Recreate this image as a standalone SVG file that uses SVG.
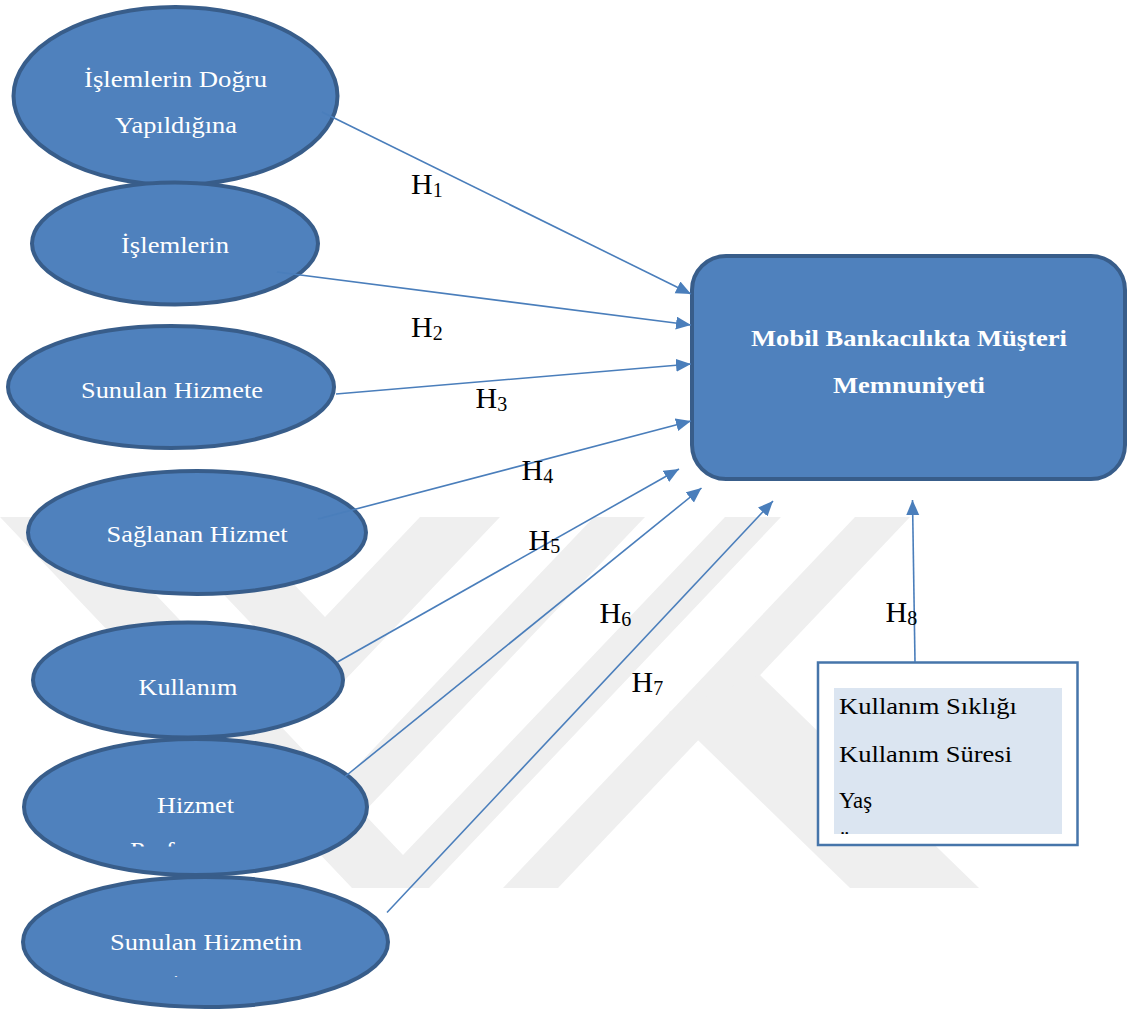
<svg xmlns="http://www.w3.org/2000/svg" width="1127" height="1010" viewBox="0 0 1127 1010">
<style>
.wm{fill:#efefef}
.node ellipse{fill:#4f81bd;stroke:#385d8a;stroke-width:4}
.nt{font-family:"Liberation Serif","Times New Roman",serif;font-size:24px;fill:#ffffff;text-anchor:middle}
.bt{font-family:"Liberation Serif","Times New Roman",serif;font-size:24px;fill:#000000}
.hl{font-family:"Liberation Serif","Times New Roman",serif;font-size:30px;fill:#000000}
.hs{font-size:20px}
.conn line{stroke:#4a7ebb;stroke-width:1.6;fill:none}
</style>
<defs>
<marker id="arr" markerUnits="userSpaceOnUse" markerWidth="16" markerHeight="14" refX="15" refY="6.5" orient="auto">
<path d="M0,0 L15,6.5 L0,13 z" fill="#4a7ebb"/>
</marker>
<clipPath id="c6"><rect x="0" y="830" width="400" height="16.5"/></clipPath>
<clipPath id="c7"><rect x="0" y="960" width="400" height="17"/></clipPath>
<clipPath id="cb"><rect x="834" y="688" width="228" height="146"/></clipPath>
</defs>
<rect width="1127" height="1010" fill="#ffffff"/>
<g id="watermark">
<polygon class="wm" points="0,517 82,517 403,855 725,517 781,517 429,888 352,888"/>
<polygon class="wm" points="150,517 230,517 325,617 420,517 500,517 325,701"/>
<polygon class="wm" points="594,517 645,517 363,813 338,786"/>
<polygon class="wm" points="855,517 910,517 558,888 503,888"/>
<polygon class="wm" points="760,675 979,888 850,888 669,712"/>
</g>
<g id="n1" class="node">
<ellipse cx="175.5" cy="96" rx="162" ry="89"/>
<text class="nt" x="175.5" y="87" textLength="183" lengthAdjust="spacingAndGlyphs">İşlemlerin Doğru</text>
<text class="nt" x="176" y="133" textLength="122" lengthAdjust="spacingAndGlyphs">Yapıldığına</text>
</g>
<g id="n2" class="node">
<ellipse cx="175" cy="243.5" rx="143" ry="61"/>
<text class="nt" x="175" y="253" textLength="108" lengthAdjust="spacingAndGlyphs">İşlemlerin</text>
</g>
<g id="n3" class="node">
<ellipse cx="171" cy="387" rx="163" ry="61"/>
<text class="nt" x="172" y="398" textLength="182" lengthAdjust="spacingAndGlyphs">Sunulan Hizmete</text>
</g>
<g id="n4" class="node">
<ellipse cx="197" cy="532.5" rx="169" ry="61.5"/>
<text class="nt" x="197" y="542" textLength="181" lengthAdjust="spacingAndGlyphs">Sağlanan Hizmet</text>
</g>
<g id="n5" class="node">
<ellipse cx="188" cy="680" rx="155" ry="57.5"/>
<text class="nt" x="188" y="695" textLength="99" lengthAdjust="spacingAndGlyphs">Kullanım</text>
</g>
<g id="n6" class="node">
<ellipse cx="195.5" cy="807" rx="171.5" ry="68"/>
<text class="nt" x="195.5" y="813" textLength="77" lengthAdjust="spacingAndGlyphs">Hizmet</text>
<text class="nt" x="195.5" y="858" textLength="131" lengthAdjust="spacingAndGlyphs" clip-path="url(#c6)">Performansı</text>
</g>
<g id="n7" class="node">
<ellipse cx="205.5" cy="942" rx="182.5" ry="65"/>
<text class="nt" x="206" y="950" textLength="192" lengthAdjust="spacingAndGlyphs">Sunulan Hizmetin</text>
<text class="nt" x="176" y="991" clip-path="url(#c7)">i</text>
</g>
<g id="target">
<rect x="692" y="256" width="433" height="223" rx="34" ry="34" fill="#4f81bd" stroke="#385d8a" stroke-width="4"/>
<text x="909" y="346" font-family="'Liberation Serif','Times New Roman',serif" font-size="23" font-weight="bold" fill="#ffffff" text-anchor="middle" textLength="316" lengthAdjust="spacingAndGlyphs">Mobil Bankacılıkta Müşteri</text>
<text x="909" y="393" font-family="'Liberation Serif','Times New Roman',serif" font-size="23" font-weight="bold" fill="#ffffff" text-anchor="middle" textLength="152" lengthAdjust="spacingAndGlyphs">Memnuniyeti</text>
</g>
<g id="controls">
<rect x="818" y="662.5" width="259.5" height="182.5" fill="#ffffff" stroke="#4675aa" stroke-width="2.5"/>
<rect x="834" y="688" width="228" height="146" fill="#dbe5f1"/>
<text class="bt" x="839" y="714" textLength="178" lengthAdjust="spacingAndGlyphs">Kullanım Sıklığı</text>
<text class="bt" x="839" y="762" textLength="173" lengthAdjust="spacingAndGlyphs">Kullanım Süresi</text>
<text class="bt" x="839" y="808" textLength="33" lengthAdjust="spacingAndGlyphs">Yaş</text>
<text class="bt" x="836" y="851" clip-path="url(#cb)">Ü</text>
</g>
<g id="connectors" class="conn">
<line x1="322" y1="112" x2="691" y2="294" marker-end="url(#arr)"/>
<line x1="277" y1="272" x2="691" y2="325" marker-end="url(#arr)"/>
<line x1="336" y1="394" x2="691" y2="364" marker-end="url(#arr)"/>
<line x1="318" y1="519" x2="691" y2="421" marker-end="url(#arr)"/>
<line x1="337.5" y1="662" x2="679" y2="469" marker-end="url(#arr)"/>
<line x1="344.5" y1="777" x2="701.5" y2="488" marker-end="url(#arr)"/>
<line x1="387" y1="912.5" x2="773" y2="501" marker-end="url(#arr)"/>
<line x1="915" y1="662" x2="912.5" y2="500" marker-end="url(#arr)"/>
</g>
<g id="labels">
<text class="hl" x="411" y="194">H<tspan class="hs" dy="3">1</tspan></text>
<text class="hl" x="411" y="337">H<tspan class="hs" dy="3">2</tspan></text>
<text class="hl" x="475.5" y="408">H<tspan class="hs" dy="3">3</tspan></text>
<text class="hl" x="521.5" y="480">H<tspan class="hs" dy="3">4</tspan></text>
<text class="hl" x="528.5" y="550">H<tspan class="hs" dy="3">5</tspan></text>
<text class="hl" x="599.5" y="622.5">H<tspan class="hs" dy="3">6</tspan></text>
<text class="hl" x="631.5" y="692">H<tspan class="hs" dy="3">7</tspan></text>
<text class="hl" x="885.5" y="621.5">H<tspan class="hs" dy="3">8</tspan></text>
</g>
</svg>
